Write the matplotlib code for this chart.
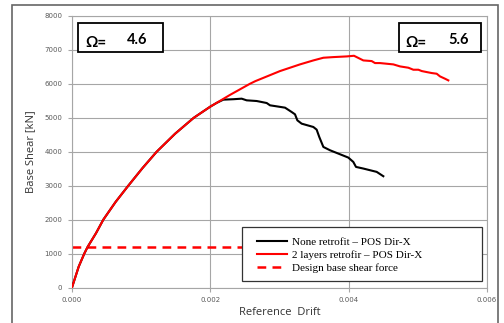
import matplotlib
matplotlib.use("Agg")
import matplotlib.pyplot as plt
from matplotlib.patches import Rectangle

# ---- data ----
drift_none = [0, 0.0000964, 0.000178, 0.000227, 0.000347, 0.000453, 0.00063,
              0.000814, 0.00102, 0.001224, 0.00149, 0.00176,
              0.0020, 0.002092, 0.002188, 0.002333, 0.002453, 0.002525, 0.00267,
              0.002815, 0.002863, 0.002959, 0.00308, 0.003176, 0.003224, 0.003258, 0.00332,
              0.003489, 0.003537, 0.003575, 0.003634, 0.00373, 0.003875, 0.003995, 0.004067,
              0.004106, 0.004212, 0.004308, 0.004405, 0.004501]
shear_none = [0, 612, 1000, 1200, 1600, 2000, 2520,
              3000, 3520, 4000, 4530, 5000,
              5330, 5440, 5535, 5548, 5564, 5515, 5495,
              5436, 5368, 5338, 5299, 5171, 5103, 4926, 4828,
              4730, 4652, 4436, 4142, 4044, 3926, 3828, 3700,
              3553, 3505, 3456, 3407, 3279]

drift_2l = [0, 0.0000964, 0.000178, 0.000227, 0.000347, 0.000453, 0.00063,
            0.000814, 0.00102, 0.001224, 0.00149, 0.00176,
            0.0020, 0.00228, 0.00257, 0.00265, 0.003007, 0.003296, 0.003489,
            0.003634, 0.003778, 0.003971, 0.004077, 0.004212, 0.004333, 0.004381, 0.004453,
            0.004646, 0.004742, 0.004863, 0.004935, 0.005008, 0.005056, 0.005128, 0.005201,
            0.005273, 0.00532, 0.005393, 0.005441]
shear_2l = [0, 612, 1000, 1200, 1600, 2000, 2520,
            3000, 3520, 4000, 4530, 5000,
            5330, 5670, 6000, 6080, 6377, 6574, 6691,
            6770, 6789, 6809, 6828, 6691, 6672, 6613, 6613,
            6574, 6515, 6476, 6417, 6417, 6378, 6348, 6319,
            6299, 6221, 6152, 6103]

design_drift = [0.0, 0.004]
design_shear = [1200, 1200]

omega_none = "4.6"
omega_2l = "5.6"

labels = ["None retrofit \u2013 POS Dir-X", "2 layers retrofir \u2013 POS Dir-X",
          "Design base shear force"]
x_ticks = [0.000, 0.002, 0.004, 0.006]
y_ticks = [0, 1000, 2000, 3000, 4000, 5000, 6000, 7000, 8000]

# ---- figure ----
fig = plt.figure(figsize=(5.04, 3.23), dpi=100)
ax = fig.add_axes([72/504, 1-287.5/323, 415/504, 271.5/323])

grid_c = "#a6a6a6"
ax.plot(drift_none, shear_none, color="black", lw=1.5, label=labels[0], zorder=3)
ax.plot(drift_2l, shear_2l, color="#ff0000", lw=1.5, label=labels[1], zorder=4)
ax.plot(design_drift, design_shear, color="#ff0000", lw=1.8, ls=(0, (3.5, 2.5)),
        label=labels[2], zorder=2)

ax.set_xlim(0, 0.006)
ax.set_ylim(0, 8000)
ax.set_xticks(x_ticks)
ax.set_xticklabels([f"{v:.3f}" for v in x_ticks])
ax.set_yticks(y_ticks)
ax.grid(True, color=grid_c, lw=0.8)
ax.set_axisbelow(True)
for s in ax.spines.values():
    s.set_color(grid_c)
    s.set_linewidth(0.8)
ax.tick_params(axis="both", colors=grid_c, length=3, width=0.8, labelsize=5,
               labelcolor="#595959")
ax.tick_params(axis="x", pad=4)
ax.tick_params(axis="y", pad=4)

ax.set_xlabel("Reference  Drift", fontsize=8, family="Open Sans", color="#333333",
              labelpad=3)
ax.set_ylabel("Base Shear [kN]", fontsize=8, family="Open Sans", color="#333333",
              labelpad=6)

# legend box (drawn separately) and legend content
ax.add_patch(Rectangle((0.409, 0.025), 0.578, 0.1987, transform=ax.transAxes,
                       facecolor="white", edgecolor="#333333", lw=0.9, zorder=9))
leg = ax.legend(loc="upper left", bbox_to_anchor=(0.445, 0.186),
                prop={"family": "Liberation Serif", "size": 8},
                frameon=False, handlelength=2.7, handletextpad=0.45, borderpad=0,
                labelspacing=0.28, borderaxespad=0)
leg.set_zorder(10)

# omega boxes
for (x0, x1, y0, y1, val) in [(0.0152, 0.2186, 0.8685, 0.973, omega_none),
                              (0.788, 0.986, 0.867, 0.974, omega_2l)]:
    ax.add_patch(Rectangle((x0, y0), x1 - x0, y1 - y0, transform=ax.transAxes,
                           facecolor="white", edgecolor="black", lw=1.3, zorder=11))
    ax.text(x0 + 0.0163, y0 + 0.0184, "\u03a9=", transform=ax.transAxes, fontsize=11,
            fontweight="bold", family=["Lato", "DejaVu Sans"], va="baseline", ha="left",
            zorder=12)
    ax.text(x0 + 0.118, y0 + 0.0284, val, transform=ax.transAxes, fontsize=10.5,
            fontweight="bold", family=["Lato", "DejaVu Sans"], va="baseline", ha="left",
            zorder=12)

# outer frame
fig.patches.append(Rectangle((12/504, -0.05), 486/504, 1.05 - 5/323,
                             transform=fig.transFigure, fill=False,
                             edgecolor="#666666", lw=1.2))

fig.savefig("out.png", dpi=100)
